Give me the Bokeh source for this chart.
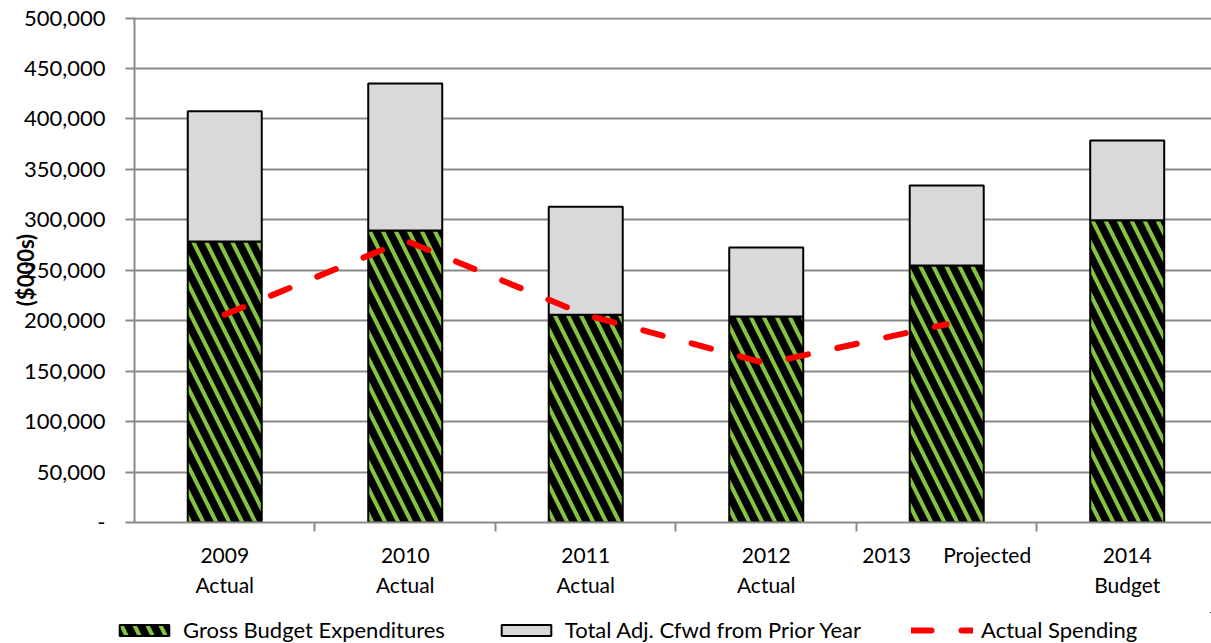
from bokeh.plotting import figure
from bokeh.models import Range1d, FixedTicker, Legend, LegendItem
from bokeh.layouts import column
from bokeh.embed import file_html
from bokeh.resources import INLINE

categories = ["2009\nActual", "2010\nActual", "2011\nActual", "2012\nActual",
              "2013" + "\u00a0" * 6 + "Projected", "2014\nBudget"]
gross_budget = [278500, 289400, 205800, 204100, 254700, 299500]
total_with_cfwd = [407600, 435000, 313000, 272500, 334000, 378600]
actual_spending = [206000, 279500, 205700, 157600, 196500]
y_ticks = [0, 50000, 100000, 150000, 200000, 250000, 300000, 350000, 400000, 450000, 500000]
y_tick_labels = ["-", "50,000", "100,000", "150,000", "200,000", "250,000",
                 "300,000", "350,000", "400,000", "450,000", "500,000"]
series_names = ["Gross Budget Expenditures", "Total Adj. Cfwd from Prior Year", "Actual Spending"]

xs = [i + 0.5 for i in range(len(categories))]
boundaries = [i for i in range(1, len(categories))]

FONT = "Lato"
GRID = "#8a8a8a"
GREEN = "#86c440"

gross_style = dict(fill_color="black", hatch_pattern="\\", hatch_color=GREEN,
                   hatch_scale=26, hatch_weight=4, line_color="black", line_width=2)
cfwd_style = dict(fill_color="#d9d9d9", line_color="black", line_width=2)
line_style = dict(line_color="#ff0000", line_width=6, line_dash="20 30", line_cap="round")

p = figure(width=1211, height=612, x_range=Range1d(0, 5.967), y_range=Range1d(0, 500500),
           output_backend="svg", toolbar_location=None,
           min_border_left=134, min_border_right=0, min_border_top=17, min_border_bottom=90)
p.frame_align = False
p.outline_line_color = None
p.background_fill_color = "white"
p.border_fill_color = "white"
p.xgrid.visible = False
p.ygrid.grid_line_color = GRID
p.ygrid.grid_line_width = 2
p.ygrid.ticker = FixedTicker(ticks=y_ticks)

# y axis
p.yaxis.ticker = FixedTicker(ticks=y_ticks)
p.yaxis.major_label_overrides = {t: l for t, l in zip(y_ticks, y_tick_labels)}
p.yaxis.major_label_text_font = FONT
p.yaxis.major_label_text_font_size = "22px"
p.yaxis.major_label_text_color = "black"
p.yaxis.major_label_standoff = 20
p.yaxis.major_tick_out = 9
p.yaxis.major_tick_in = 0
p.yaxis.major_tick_line_color = GRID
p.yaxis.major_tick_line_width = 2
p.yaxis.minor_tick_line_color = None
p.yaxis.axis_line_color = GRID
p.yaxis.axis_line_width = 2
p.yaxis.axis_label = "($000s)"
p.yaxis.axis_label_text_font = FONT
p.yaxis.axis_label_text_font_style = "bold"
p.yaxis.axis_label_text_font_size = "22px"
p.yaxis.axis_label_text_color = "black"
p.yaxis.axis_label_standoff = -18

# x axis
p.xaxis.ticker = FixedTicker(ticks=xs, minor_ticks=boundaries)
p.xaxis.major_label_overrides = {x: c for x, c in zip(xs, categories)}
p.xaxis.major_label_text_font = FONT
p.xaxis.major_label_text_font_size = "21px"
p.xaxis.major_label_text_color = "black"
p.xaxis.major_label_standoff = 10
p.xaxis.major_tick_line_color = None
p.xaxis.minor_tick_out = 9
p.xaxis.minor_tick_in = 0
p.xaxis.minor_tick_line_color = GRID
p.xaxis.minor_tick_line_width = 2
p.xaxis.axis_line_color = GRID
p.xaxis.axis_line_width = 2

p.vbar(x=xs, width=0.41, bottom=0, top=gross_budget, **gross_style)
p.vbar(x=xs, width=0.41, bottom=gross_budget, top=total_with_cfwd, **cfwd_style)
p.line(x=xs[:len(actual_spending)], y=actual_spending, **line_style)

# legend strip below the chart (its glyphs lie outside its own ranges, only swatches show)
lg = figure(width=1211, height=31, x_range=Range1d(-3, -2), y_range=Range1d(-3, -2),
            output_backend="svg", toolbar_location=None, x_axis_type=None, y_axis_type=None,
            min_border_left=0, min_border_right=0, min_border_top=0, min_border_bottom=0)
lg.frame_align = False
lg.outline_line_color = None
lg.xgrid.visible = False
lg.ygrid.visible = False
lg.border_fill_color = "white"
r1 = lg.vbar(x=xs, width=0.41, bottom=0, top=gross_budget, **gross_style)
r2 = lg.vbar(x=xs, width=0.41, bottom=gross_budget, top=total_with_cfwd, **cfwd_style)
r3 = lg.line(x=xs[:len(actual_spending)], y=actual_spending, **line_style)
legend = Legend(items=[LegendItem(label=series_names[0], renderers=[r1]),
                       LegendItem(label=series_names[1], renderers=[r2]),
                       LegendItem(label=series_names[2], renderers=[r3])],
                orientation="horizontal", location=(113, 0),
                label_text_font=FONT, label_text_font_size="22px", label_text_color="black",
                glyph_width=62, glyph_height=14, label_standoff=8, spacing=50,
                padding=0, margin=0, border_line_alpha=0, background_fill_alpha=0)
lg.add_layout(legend, "center")

layout = column(p, lg, spacing=0)
open("out.html", "w").write(file_html(layout, INLINE))
